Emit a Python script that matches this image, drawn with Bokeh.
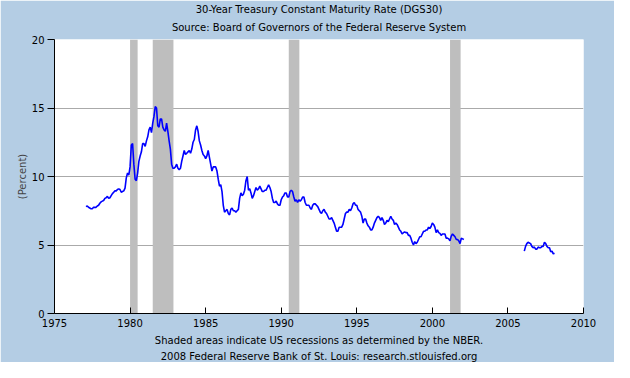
from bokeh.plotting import figure
from bokeh.models import FixedTicker, Title
from bokeh.embed import file_html
from bokeh.resources import INLINE

# ---- data ----
title_text = "30-Year Treasury Constant Maturity Rate (DGS30)"
subtitle_text = "Source: Board of Governors of the Federal Reserve System"
footer1 = "Shaded areas indicate US recessions as determined by the NBER."
footer2 = "2008 Federal Reserve Bank of St. Louis: research.stlouisfed.org"
y_label = "(Percent)"

x_ticks = [1975, 1980, 1985, 1990, 1995, 2000, 2005, 2010]
y_ticks = [0, 5, 10, 15, 20]

rec_start = [1980.0, 1981.5, 1990.5, 2001.17]
rec_end = [1980.5, 1982.87, 1991.2, 2001.87]

# monthly values, first segment starts Feb 1977
seg1_start = (1977, 2)
seg1_values = [
    7.80, 7.85, 7.75, 7.70, 7.65, 7.65, 7.75, 7.75, 7.75, 7.85, 7.90,
    8.05, 8.15, 8.20, 8.25, 8.40, 8.45, 8.55, 8.40, 8.45, 8.60, 8.75, 8.85,
    8.95, 8.95, 9.05, 9.10, 9.05, 8.85, 8.90, 8.95, 9.15, 9.90, 10.25, 10.10,
    10.70, 12.30, 12.40, 10.90, 9.80, 9.70, 10.25, 11.10, 11.50, 11.80, 12.40, 12.40,
    12.20, 12.60, 12.90, 13.40, 13.60, 13.20, 13.90, 14.40, 15.10, 15.00, 13.70, 13.60,
    14.20, 14.20, 13.60, 13.40, 13.30, 13.90, 13.30, 12.60, 12.00, 10.90, 10.60, 10.60,
    10.70, 10.90, 10.60, 10.50, 10.60, 11.10, 11.50, 11.90, 11.60, 11.70, 11.80, 11.90,
    11.70, 12.00, 12.50, 12.70, 13.40, 13.70, 13.30, 12.60, 12.30, 11.90, 11.60, 11.50,
    11.30, 11.50, 11.90, 11.40, 10.90, 10.40, 10.70, 10.70, 10.70, 10.40, 9.80, 9.30,
    9.40, 8.90, 7.90, 7.40, 7.50, 7.60, 7.30, 7.20, 7.60, 7.70, 7.50, 7.50,
    7.40, 7.50, 7.60, 8.40, 8.80, 8.60, 8.70, 9.00, 9.70, 10.00, 9.00, 9.10,
    8.80, 8.40, 8.60, 8.90, 9.20, 9.00, 9.10, 9.30, 9.10, 8.90, 8.90, 9.00,
    9.00, 9.20, 9.40, 9.20, 8.90, 8.40, 8.10, 8.10, 8.20, 8.00, 7.90, 7.90,
    8.30, 8.50, 8.60, 8.80, 8.80, 8.50, 8.50, 8.90, 9.00, 8.90, 8.50, 8.20,
    8.30, 8.10, 8.30, 8.20, 8.30, 8.50, 8.50, 8.10, 7.90, 7.90, 7.90, 7.70,
    7.60, 7.90, 8.00, 8.00, 7.90, 7.80, 7.60, 7.40, 7.30, 7.50, 7.60, 7.40,
    7.30, 7.10, 6.90, 6.90, 7.00, 6.80, 6.60, 6.30, 6.00, 6.00, 6.30, 6.30,
    6.30, 6.50, 6.90, 7.30, 7.40, 7.40, 7.60, 7.50, 7.70, 8.00, 8.10, 7.90,
    7.90, 7.60, 7.50, 7.40, 7.10, 6.60, 6.90, 6.90, 6.60, 6.40, 6.30, 6.10,
    6.10, 6.30, 6.60, 6.80, 7.00, 7.10, 7.00, 6.80, 7.00, 6.80, 6.50, 6.60,
    6.80, 6.70, 6.90, 7.10, 6.90, 6.80, 6.50, 6.60, 6.50, 6.30, 6.10, 6.00,
    5.80, 5.90, 5.95, 5.90, 5.90, 5.70, 5.70, 5.50, 5.20, 5.00, 5.25, 5.10,
    5.20, 5.40, 5.60, 5.60, 5.80, 6.00, 6.00, 6.10, 6.10, 6.30, 6.20, 6.35,
    6.60, 6.50, 6.30, 5.90, 6.10, 5.90, 5.85, 5.70, 5.80, 5.80, 5.80, 5.50,
    5.50, 5.45, 5.30, 5.65, 5.80, 5.70, 5.60, 5.40, 5.40, 5.30, 5.10, 5.50,
    5.45, 5.40,
]

# second segment starts Feb 2006
seg2_start = (2006, 2)
seg2_values = [
    4.55, 4.90, 5.10, 5.20, 5.15, 5.10, 4.90, 4.80, 4.85, 4.70, 4.70,
    4.85, 4.80, 4.80, 4.90, 4.90, 5.20, 5.10, 4.90, 4.80, 4.80, 4.50, 4.55,
    4.35, 4.40,
]


def month_x(start, n):
    y0, m0 = start
    return [y0 + (m0 - 1 + i) / 12.0 for i in range(n)]


seg1_x = month_x(seg1_start, len(seg1_values))
seg2_x = month_x(seg2_start, len(seg2_values))

# ---- styling ----
BG = "#B4CDE4"
FONT = "DejaVu Sans"
FS = "10px"

p = figure(
    width=614, height=362,
    x_range=(1975, 2010), y_range=(0, 20),
    output_backend="svg", toolbar_location=None,
    min_border_left=54, min_border_right=31,
    min_border_top=39, min_border_bottom=49,
)
p.background_fill_color = "white"
p.border_fill_color = BG
p.outline_line_color = None

# recessions
p.quad(left=rec_start, right=rec_end, bottom=0, top=20,
       fill_color="#BEBEBE", line_color=None)

# series
p.line(seg1_x, seg1_values, line_color="#0000FF", line_width=1.6)
p.line(seg2_x, seg2_values, line_color="#0000FF", line_width=1.6)

# axes
p.xaxis.ticker = FixedTicker(ticks=x_ticks)
p.yaxis.ticker = FixedTicker(ticks=y_ticks)
p.xaxis.minor_tick_line_color = None
p.yaxis.minor_tick_line_color = None
p.xaxis.major_tick_in = 6
p.xaxis.major_tick_out = 0
p.yaxis.major_tick_in = 0
p.yaxis.major_tick_out = 7
for ax in (p.xaxis, p.yaxis):
    ax.axis_line_color = "black"
    ax.major_tick_line_color = "black"
    ax.major_label_text_font = FONT
    ax.major_label_text_font_size = FS
    ax.major_label_text_color = "black"
p.xaxis.major_label_standoff = 5
p.yaxis.major_label_standoff = 3
p.yaxis.axis_label = y_label
p.yaxis.axis_label_text_font = FONT
p.yaxis.axis_label_text_font_size = FS
p.yaxis.axis_label_text_font_style = "normal"
p.yaxis.axis_label_standoff = 1

p.xgrid.grid_line_color = None
p.ygrid.ticker = FixedTicker(ticks=[5, 10, 15])
p.ygrid.grid_line_color = "#AAAAAA"


def make_title(txt, standoff):
    return Title(text=txt, align="center", text_font=FONT, text_font_size=FS,
                 text_font_style="normal", text_color="black", standoff=standoff)


# titles: closest to the plot first
p.add_layout(make_title(subtitle_text, 13), "above")
p.add_layout(make_title(title_text, -3), "above")
p.add_layout(make_title(footer1, 6), "below")
p.add_layout(make_title(footer2, 0), "below")

open("out.html", "w").write(file_html(p, INLINE))
